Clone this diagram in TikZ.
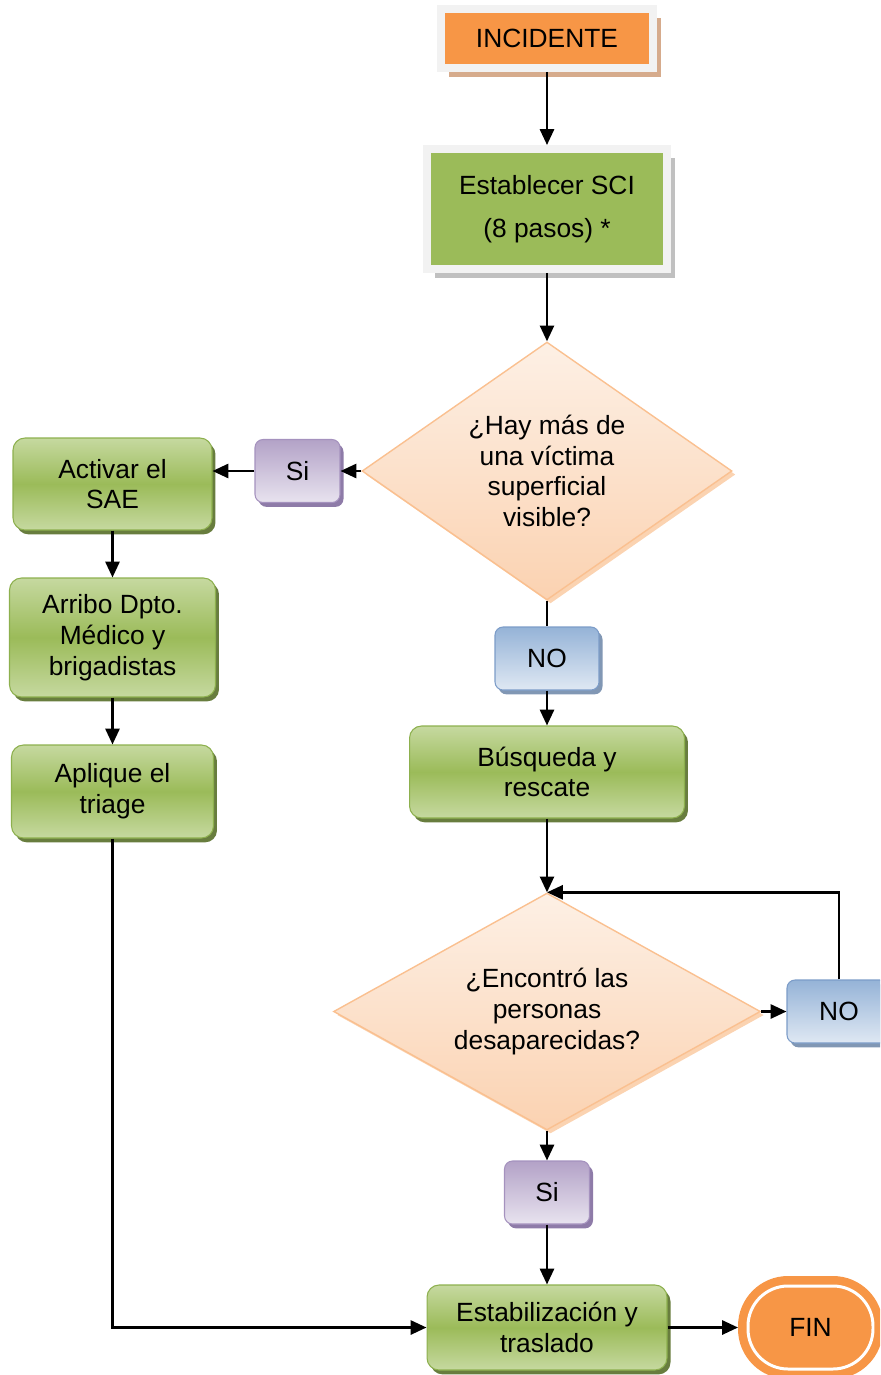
\documentclass[tikz,border=0pt]{standalone}
\usepackage{fontspec}
\setmainfont{Liberation Sans}
\usetikzlibrary{shapes.geometric,arrows.meta,shadows}
\definecolor{naranja}{HTML}{F79646}
\definecolor{marcogris}{HTML}{F2F2F2}
\definecolor{sombratan}{HTML}{D6AB8C}
\definecolor{sombragris}{HTML}{C0C0C0}
\definecolor{verde}{HTML}{9BBB59}
\definecolor{verdeclaro}{HTML}{C6D9A0}
\definecolor{verdeborde}{HTML}{8DB04E}
\definecolor{verdesombra}{HTML}{687D3E}
\definecolor{lila}{HTML}{B3A2C7}
\definecolor{lilaclaro}{HTML}{E8E3EF}
\definecolor{lilaborde}{HTML}{A592BE}
\definecolor{lilasombra}{HTML}{8E7BA8}
\definecolor{azul}{HTML}{95B3D7}
\definecolor{azulclaro}{HTML}{DFE8F3}
\definecolor{azulborde}{HTML}{7C9CC8}
\definecolor{azulsombra}{HTML}{8197B4}
\definecolor{durazno}{HTML}{FAC090}
\definecolor{duraznoclaro}{HTML}{FDF0E5}
\definecolor{duraznofondo}{HTML}{FBD2B1}
\begin{document}
\begin{tikzpicture}[x=0.02cm,y=-0.02cm,
    font=\fontsize{15}{17.5}\selectfont,
    >={Triangle[length=9pt,width=8pt]},
    flecha/.style={->,line width=1.4pt},
    marco/.style={rectangle,draw=marcogris,line width=0.16cm,inner sep=0pt,align=center,
      drop shadow={shadow xshift=4.5pt,shadow yshift=-5pt,fill=#1,opacity=1}},
    caja/.style={rectangle,rounded corners=0.24cm,draw=verdeborde,line width=0.6pt,
      top color=verdeclaro,bottom color=verdeclaro,middle color=verde,
      drop shadow={shadow xshift=2pt,shadow yshift=-2.5pt,fill=verdesombra,opacity=1},
      inner sep=0pt,align=center},
    etiq/.style={rectangle,rounded corners=0.16cm,line width=0.6pt,inner sep=0pt,
      minimum height=1.26cm,shading angle=45},
    si/.style={etiq,draw=lilaborde,top color=lila,bottom color=lilaclaro,minimum width=1.7cm,
      drop shadow={shadow xshift=2pt,shadow yshift=-2.5pt,fill=lilasombra,opacity=1}},
    no/.style={etiq,draw=azulborde,top color=azul,bottom color=azulclaro,minimum width=2.08cm,
      drop shadow={shadow xshift=2pt,shadow yshift=-2.5pt,fill=azulsombra,opacity=1}},
    pregunta/.style={diamond,draw=durazno,line width=0.8pt,inner sep=0pt,align=center,
      top color=duraznoclaro,bottom color=duraznofondo,
      drop shadow={shadow xshift=2pt,shadow yshift=-2pt,fill=durazno!70,opacity=1}},
    fin/.style={rectangle,rounded corners=0.8cm,fill=naranja,draw=white,line width=1.7pt,
      preaction={draw=naranja,line width=0.4cm},outer sep=0.2cm,
      minimum width=2.5cm,minimum height=1.66cm}]
  \clip (0,0) rectangle (880,1375);
  \node[marco=sombratan,fill=naranja,minimum width=4.24cm,minimum height=1.18cm]
    (inc) at (547,38.5) {INCIDENTE};
  \node[marco=sombragris,fill=verde,minimum width=4.8cm,minimum height=2.4cm]
    (sci) at (547,209) {Establecer SCI\\[7pt](8 pasos) *};
  \node[pregunta,shape aspect=1.43,minimum width=7.4cm,minimum height=5.16cm]
    (q1) at (547,471) {¿Hay más de\\una víctima\\superficial\\visible?};
  \node[si] (si1) at (297.5,471) {Si};
  \node[caja,minimum width=3.98cm,minimum height=1.84cm] (sae) at (112.5,484)
    {Activar el\\SAE};
  \node[caja,minimum width=4.12cm,minimum height=2.38cm] (med) at (112.5,637.5)
    {Arribo Dpto.\\Médico y\\brigadistas};
  \node[caja,minimum width=4.04cm,minimum height=1.86cm] (tri) at (112.5,791.5)
    {Aplique el\\triage};
  \node[no] (no1) at (547,658.5) {NO};
  \node[caja,minimum width=5.5cm,minimum height=1.84cm] (bus) at (547,772)
    {Búsqueda y\\rescate};
  \node[pregunta,shape aspect=1.8,minimum width=8.54cm,minimum height=4.74cm]
    (q2) at (547,1011.5) {¿Encontró las\\personas\\desaparecidas?};
  \node[no] (no2) at (839,1011.5) {NO};
  \node[si] (si2) at (547,1192.5) {Si};
  \node[caja,minimum width=4.8cm,minimum height=1.7cm] (est) at (547,1327.5)
    {Estabilización y\\traslado};
  \node[fin] (final) at (810.5,1327.5) {FIN};
  \draw[flecha] (inc.south) -- (sci.north);
  \draw[flecha] (sci.south) -- (q1.north);
  \draw[flecha] (q1.west) -- (si1.east);
  \draw[flecha] (si1.west) -- (si1.west -| sae.east);
  \draw[flecha] (sae.south) -- (med.north);
  \draw[flecha] (med.south) -- (tri.north);
  \draw[flecha] (tri.south) |- (est.west);
  \draw[line width=1.4pt] (q1.south) -- (no1.north);
  \draw[flecha] (no1.south) -- (bus.north);
  \draw[flecha] (bus.south) -- (q2.north);
  \draw[flecha] (q2.east) -- (no2.west);
  \draw[flecha] (no2.north) |- (q2.north);
  \draw[flecha] (q2.south) -- (si2.north);
  \draw[flecha] (si2.south) -- (est.north);
  \draw[flecha] (est.east) -- (final.west);
\end{tikzpicture}
\end{document}
